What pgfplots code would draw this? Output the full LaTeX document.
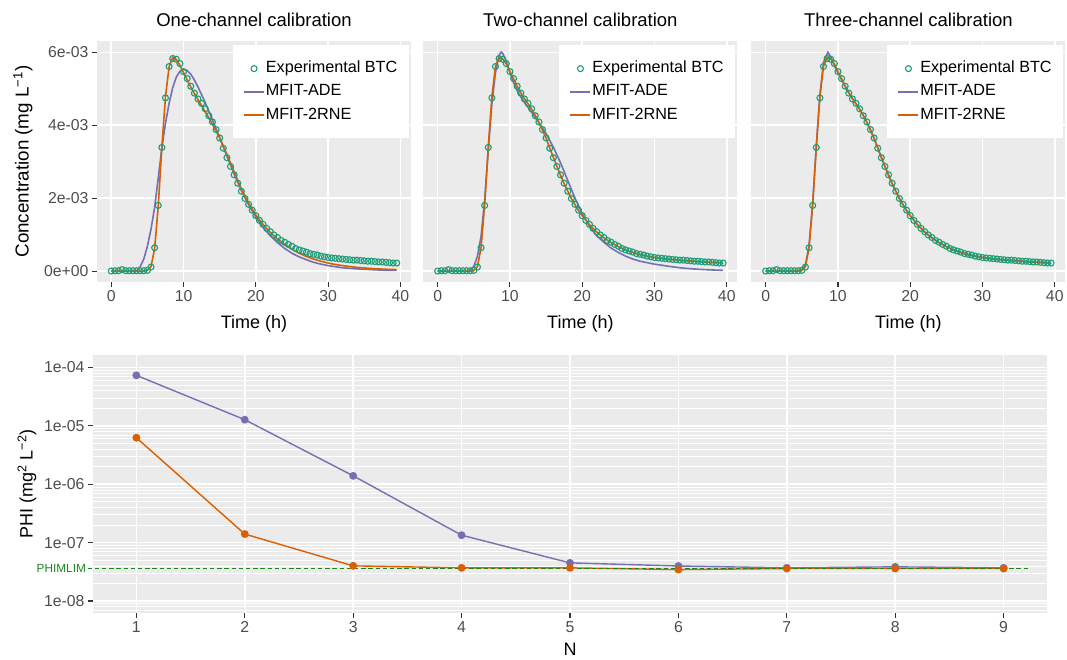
\documentclass[border=0pt]{standalone}
\usepackage{fontspec}
\setmainfont{Liberation Sans}
\usepackage{pgfplots}
\pgfplotsset{compat=1.18}
\usepackage{pgfplotstable}

\definecolor{panelbg}{HTML}{EBEBEB}
\definecolor{ticktext}{HTML}{4D4D4D}
\definecolor{tickline}{HTML}{333333}
\definecolor{ade}{HTML}{7570B3}
\definecolor{rne}{HTML}{D95F02}
\definecolor{btc}{HTML}{1B9E77}
\definecolor{philim}{HTML}{1A861A}

\newcommand{\tickfont}{\fontsize{15.8}{18}\selectfont}
\newcommand{\labfont}{\fontsize{18}{21}\selectfont}
\newcommand{\titfont}{\fontsize{18.5}{22}\selectfont}
\newcommand{\legfont}{\fontsize{16.2}{19}\selectfont}

% experimental BTC, concentration in 1e-3 mg/L
\pgfplotstableread{
t c
0 0.00
0.5 0.01
1 0.01
1.5 0.04
2 0.01
2.5 0.01
3 0.01
3.5 0.01
4 0.01
4.5 0.01
5 0.02
5.5 0.11
6 0.64
6.5 1.80
7 3.39
7.5 4.75
8 5.61
8.5 5.83
9 5.81
9.5 5.69
10 5.47
10.5 5.28
11 5.07
11.5 4.88
12 4.72
12.5 4.60
13 4.45
13.5 4.26
14 4.09
14.5 3.88
15 3.65
15.5 3.37
16 3.11
16.5 2.87
17 2.64
17.5 2.41
18 2.19
18.5 1.99
19 1.83
19.5 1.67
20 1.52
20.5 1.39
21 1.28
21.5 1.17
22 1.08
22.5 0.99
23 0.92
23.5 0.84
24 0.79
24.5 0.73
25 0.68
25.5 0.62
26 0.58
26.5 0.55
27 0.52
27.5 0.48
28 0.46
28.5 0.44
29 0.41
29.5 0.39
30 0.37
30.5 0.36
31 0.35
31.5 0.34
32 0.33
32.5 0.32
33 0.31
33.5 0.30
34 0.30
34.5 0.29
35 0.28
35.5 0.27
36 0.27
36.5 0.26
37 0.25
37.5 0.25
38 0.24
38.5 0.23
39 0.22
39.5 0.22
}\btc

\pgfplotstableread{
t c
0 0
3.5 0
4 0.12
4.5 0.33
5 0.68
5.5 1.15
6 1.75
6.5 2.55
7 3.38
7.5 4.05
8 4.60
8.5 5.03
9 5.32
9.5 5.48
10 5.53
10.5 5.50
11 5.40
11.5 5.24
12 5.05
13 4.62
14 4.15
15 3.66
16 3.15
17 2.66
18 2.21
19 1.82
20 1.48
21 1.20
22 0.97
23 0.78
24 0.62
25 0.49
26 0.39
27 0.31
28 0.24
29 0.19
30 0.15
32 0.09
34 0.06
36 0.04
38 0.02
39.5 0.02
}\adeone

\pgfplotstableread{
t c
0 0
4.5 0
5 0.02
5.5 0.12
6 0.62
6.5 1.78
7 3.40
7.5 4.78
8 5.60
8.5 5.86
9 5.80
9.5 5.64
10 5.44
10.5 5.24
11 5.05
11.5 4.87
12 4.70
13 4.37
14 4.03
15 3.65
16 3.20
17 2.72
18 2.25
19 1.86
20 1.54
21 1.28
22 1.06
23 0.88
24 0.73
25 0.60
26 0.49
27 0.40
28 0.33
29 0.27
30 0.22
31 0.18
32 0.15
34 0.10
36 0.07
38 0.05
39.5 0.04
}\rneone

\pgfplotstableread{
t c
0 0
4.3 0
4.5 0.03
5 0.13
5.5 0.40
6 0.95
6.5 1.95
7 3.30
7.5 4.58
8 5.45
8.5 5.92
8.8 6.01
9 5.97
9.5 5.76
10 5.45
10.5 5.17
11 4.95
11.5 4.78
12 4.63
13 4.35
14 4.07
15 3.77
16 3.40
17 2.97
17.5 2.73
18 2.48
19 2.00
20 1.58
21 1.23
22 0.97
23 0.79
24 0.63
25 0.51
26 0.41
27 0.33
28 0.27
29 0.23
30 0.19
32 0.13
34 0.08
36 0.05
38 0.03
39.5 0.02
}\adetwo

\pgfplotstableread{
t c
0 0
4.8 0
5 0.02
5.5 0.12
6 0.64
6.5 1.82
7 3.40
7.5 4.78
8 5.62
8.5 5.86
9 5.82
9.5 5.68
10 5.47
10.5 5.27
11 5.07
11.5 4.89
12 4.73
12.5 4.59
13 4.44
13.5 4.27
14 4.08
14.5 3.87
15 3.64
15.5 3.38
16 3.12
16.5 2.87
17 2.63
17.5 2.40
18 2.19
18.5 1.99
19 1.82
19.5 1.66
20 1.52
21 1.27
22 1.07
23 0.91
24 0.78
25 0.67
26 0.58
27 0.51
28 0.45
29 0.41
30 0.37
32 0.32
34 0.29
36 0.26
38 0.24
39.5 0.22
}\rnetwo

\pgfplotstableread{
t c
0 0
4.7 0
5 0.04
5.5 0.17
6 0.70
6.5 1.85
7 3.40
7.5 4.82
8 5.72
8.6 6.00
9 5.88
9.5 5.64
10 5.44
10.5 5.25
11 5.07
11.5 4.89
12 4.73
12.5 4.59
13 4.44
13.5 4.27
14 4.08
14.5 3.87
15 3.64
15.5 3.38
16 3.12
16.5 2.87
17 2.63
17.5 2.40
18 2.19
18.5 1.99
19 1.82
19.5 1.66
20 1.52
21 1.27
22 1.07
23 0.91
24 0.78
25 0.67
26 0.58
27 0.51
28 0.45
29 0.41
30 0.37
32 0.32
34 0.29
36 0.26
38 0.24
39.5 0.22
}\adethree

% objective function per iteration
\pgfplotstableread{
n phi
1 7.3e-5
2 1.27e-5
3 1.39e-6
4 1.34e-7
5 4.5e-8
6 3.98e-8
7 3.7e-8
8 3.85e-8
9 3.7e-8
}\phiade

\pgfplotstableread{
n phi
1 6.24e-6
2 1.40e-7
3 4.0e-8
4 3.7e-8
5 3.7e-8
6 3.45e-8
7 3.6e-8
8 3.6e-8
9 3.6e-8
}\phirne

\pgfplotsset{
  gg/.style={
    scale only axis,
    axis background/.style={fill=panelbg},
    axis line style={draw=none},
    xmajorgrids, ymajorgrids,
    major grid style={white, line width=1.6pt},
    minor grid style={white, line width=0.6pt},
    tick align=outside,
    major tick length=5pt,
    minor tick length=0pt,
    tick style={tickline, line width=1.1pt},
    xtick pos=bottom, ytick pos=left,
    tick label style={font=\tickfont, text=ticktext},
    label style={font=\labfont},
    /pgf/number format/assume math mode=true,
  },
  btcpanel/.style={
    gg, width=314pt, height=241pt,
    xmin=-1.975, xmax=41.475, ymin=-0.30, ymax=6.31,
    xtick={0,10,20,30,40}, ytick={0,2,4,6},
    title style={font=\titfont, at={(rel axis cs:0.5,1.0643)}, anchor=center},
    xlabel={Time (h)},
    xlabel style={at={(rel axis cs:0.5,-0.172)}, anchor=center},
    legend cell align=left,
    legend style={at={(rel axis cs:0.9936,0.9834)}, anchor=north east,
      draw=none, fill=white, font=\legfont, inner xsep=10.5pt, inner ysep=11.9pt,
      row sep=0pt,
      nodes={inner xsep=1pt, inner ysep=3.9pt, text height=11.9pt, text depth=3.4pt}},
  },
}

\newcommand{\btclegend}{%
  \addlegendimage{legend image code/.code={\path[draw=none] (0pt,0pt) -- (20pt,0pt); \draw[btc, line width=1.1pt] (10pt,0pt) circle (3pt);}}
  \addlegendentry{Experimental BTC}
  \addlegendimage{legend image code/.code={\draw[ade, line width=1.6pt] (0pt,0pt) -- (20pt,0pt);}}
  \addlegendentry{MFIT-ADE}
  \addlegendimage{legend image code/.code={\draw[rne, line width=1.6pt] (0pt,0pt) -- (20pt,0pt);}}
  \addlegendentry{MFIT-2RNE}
}

\begin{document}
\begin{tikzpicture}
\useasboundingbox (0pt,0pt) rectangle (1067pt,-659pt);

% one-channel
\begin{axis}[btcpanel, at={(97pt,-282pt)}, anchor=south west,
  title={One-channel calibration},
  yticklabels={0e+00,2e-03,4e-03,6e-03},
  ylabel={Concentration (mg L\textsuperscript{−1})},
  ylabel style={at={(rel axis cs:-0.2357,0.5)}, anchor=center, font=\fontsize{18.8}{21}\selectfont}]
  \btclegend
  \addplot[ade, line width=1.6pt, forget plot] table[x=t, y=c] {\adeone};
  \addplot[rne, line width=1.6pt, forget plot] table[x=t, y=c] {\rneone};
  \addplot[only marks, mark=o, mark size=3pt, btc, mark options={line width=1.1pt}, forget plot] table[x=t, y=c] {\btc};
\end{axis}

% two-channel
\begin{axis}[btcpanel, at={(423.4pt,-282pt)}, anchor=south west,
  title={Two-channel calibration},
  yticklabels={}, ytick style={draw=none}]
  \btclegend
  \addplot[ade, line width=1.6pt, forget plot] table[x=t, y=c] {\adetwo};
  \addplot[rne, line width=1.6pt, forget plot] table[x=t, y=c] {\rnetwo};
  \addplot[only marks, mark=o, mark size=3pt, btc, mark options={line width=1.1pt}, forget plot] table[x=t, y=c] {\btc};
\end{axis}

% three-channel
\begin{axis}[btcpanel, at={(751.4pt,-282pt)}, anchor=south west,
  title={Three-channel calibration},
  yticklabels={}, ytick style={draw=none}]
  \btclegend
  \addplot[ade, line width=1.6pt, forget plot] table[x=t, y=c] {\adethree};
  \addplot[rne, line width=1.6pt, forget plot] table[x=t, y=c] {\rnetwo};
  \addplot[only marks, mark=o, mark size=3pt, btc, mark options={line width=1.1pt}, forget plot] table[x=t, y=c] {\btc};
\end{axis}

% PHI against iteration
\begin{axis}[gg, at={(93pt,-612.7pt)}, anchor=south west,
  width=954pt, height=257.7pt,
  ymode=log, xmin=0.6, xmax=9.4, ymin=6.31e-9, ymax=1.625e-4,
  xtick={1,2,3,4,5,6,7,8,9},
  ytick={1e-8,1e-7,1e-6,1e-5,1e-4},
  yticklabels={1e-08,1e-07,1e-06,1e-05,1e-04},
  minor ytick={7e-9,8e-9,9e-9,2e-8,3e-8,4e-8,5e-8,6e-8,7e-8,8e-8,9e-8,
    2e-7,3e-7,4e-7,5e-7,6e-7,7e-7,8e-7,9e-7,2e-6,3e-6,4e-6,5e-6,6e-6,7e-6,8e-6,9e-6,
    2e-5,3e-5,4e-5,5e-5,6e-5,7e-5,8e-5,9e-5},
  yminorgrids,
  clip=false,
  xlabel={N},
  xlabel style={at={(rel axis cs:0.5,-0.1436)}, anchor=center},
  ylabel={PHI (mg\textsuperscript{2} L\textsuperscript{−2})},
  ylabel style={at={(rel axis cs:-0.0692,0.5)}, anchor=center}]
  \addplot[ade, line width=1.4pt, mark=*, mark size=3.2pt] table[x=n, y=phi] {\phiade};
  \addplot[rne, line width=1.4pt, mark=*, mark size=3.2pt] table[x=n, y=phi] {\phirne};
  \addplot[philim, line width=1.5pt, dash pattern=on 4.5pt off 2.7pt] coordinates {(0.55,3.57e-8) (9.23,3.57e-8)};
  \node[anchor=east, text=philim, font=\fontsize{11.8}{13}\selectfont, inner sep=1.5pt] at (axis cs:0.55,3.57e-8) {PHIMLIM};
\end{axis}
\end{tikzpicture}
\end{document}
